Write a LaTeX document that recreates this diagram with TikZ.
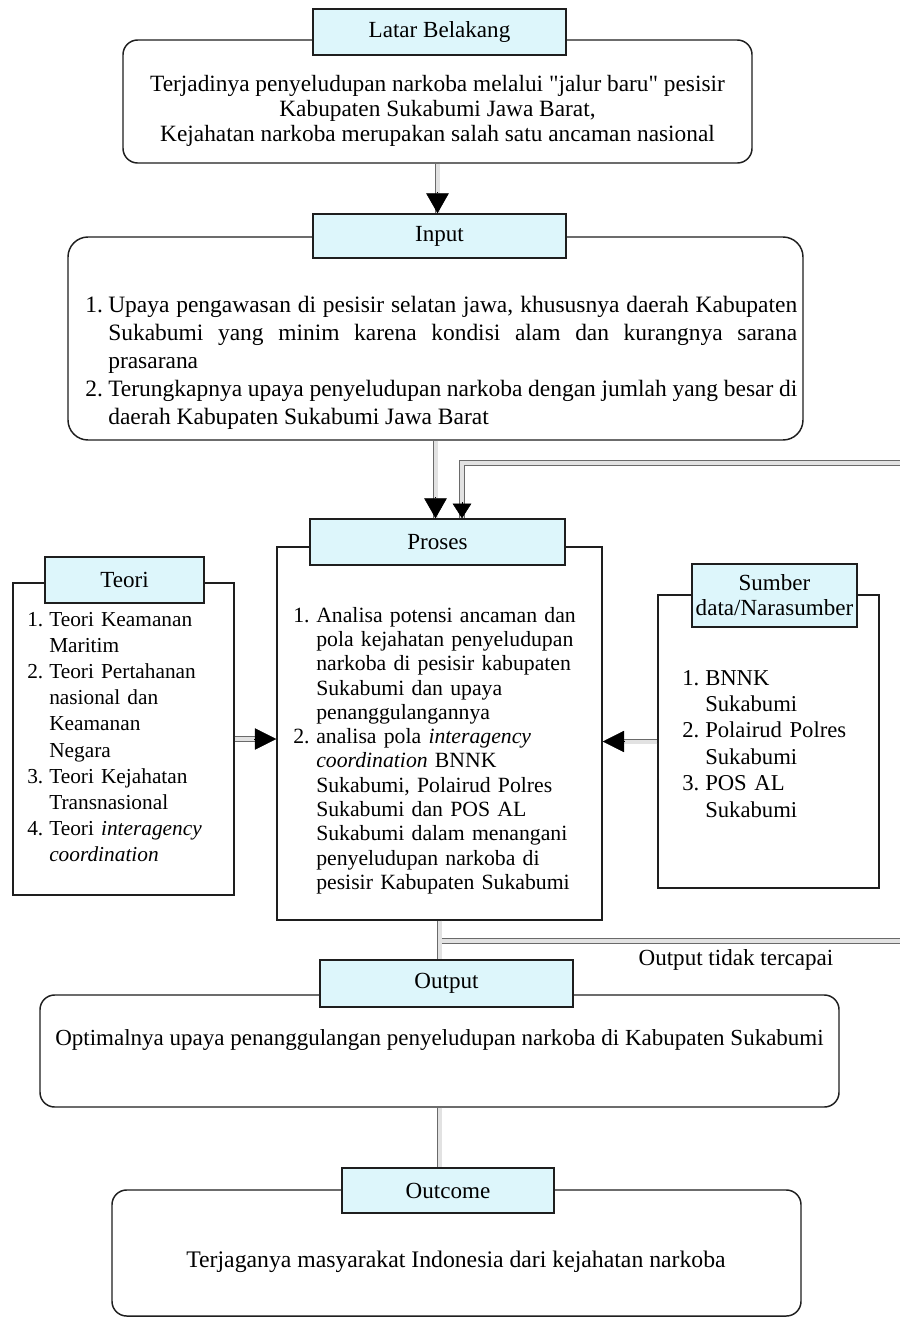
\documentclass[tikz,border=0pt]{standalone}
\usepackage{fontspec}
\setmainfont{Liberation Serif}[Ligatures=TeXOff]
\usetikzlibrary{fit,calc,arrows.meta}
\definecolor{hdrfill}{HTML}{DDF6FB}
\definecolor{edge}{HTML}{1E1E1E}
\definecolor{dblout}{HTML}{6A6A6A}
\definecolor{dblin}{HTML}{E2E2E2}
\newlength{\hng}
\newcommand{\itm}[2]{\par\noindent\hangindent=\hng\hangafter=1\makebox[\hng][l]{#1}#2\par}
\tikzset{
  boxframe/.style={draw=edge, line width=1.1pt, fill=white, inner sep=0pt},
  rboxframe/.style={boxframe, rounded corners=11pt},
  hdrbox/.style={draw=edge, line width=1.1pt, fill=hdrfill, inner sep=2pt, align=center, font=\fontsize{17.3}{18.75}\selectfont},
  dbl/.style={draw=dblout, line width=0.7pt, double=dblin, double distance=3pt},
  bigtip/.style={-{Triangle[length=15pt,width=17pt]}, line width=0.4pt, draw=black},
  smalltip/.style={-{Triangle[length=11pt,width=14pt]}, line width=0.4pt, draw=black},
  sidetip/.style={-{Triangle[length=16pt,width=16pt]}, line width=0.4pt, draw=black},
  bodytext/.style={inner sep=0pt},
}
\begin{document}
\begin{tikzpicture}[x=0.75pt,y=-0.75pt]
\useasboundingbox (0,0) rectangle (900,1318);
\fill[white] (0,0) rectangle (900,1318);

% free ends of the feedback loop
\coordinate (fb1) at (900,463);
\coordinate (fbc) at (462,463);
\coordinate (fb2) at (900,941);

% ---------- boxes ----------
\node[rboxframe, fit={(123,40)(752,163)}] (lb) {};
\node[rboxframe, rounded corners=15pt, fit={(68,237)(803,440)}] (ib) {};
\node[boxframe, fit={(277,547)(602,920)}] (pb) {};
\node[boxframe, fit={(13,583)(234,895)}] (tb) {};
\node[boxframe, fit={(658,595)(879,888)}] (sb) {};
\node[rboxframe, fit={(40,995)(839,1107)}] (ob) {};
\node[rboxframe, fit={(112,1190)(801,1316)}] (ocb) {};

% ---------- connectors ----------
% Latar -> Input
\draw[dbl, shorten >=13pt] (lb.south) -- (lb.south |- ib.north);
% Input -> Proses
\draw[dbl, shorten >=13pt] (ib.south) -- (ib.south |- pb.north);
% feedback top
\draw[dbl, shorten >=9pt] (fb1) -- (fbc) -- (fbc |- pb.north);
% Teori -> Proses
\draw[dbl, shorten >=14pt] (tb.east) -- (tb.east -| pb.west);
% Sumber -> Proses
\draw[dbl, shorten >=14pt] (sb.west) -- (sb.west -| pb.east);
% Proses -> Output, with branch
\draw[dbl] (pb.south |- fb2) -- (fb2);
\draw[dbl] (pb.south) -- (pb.south |- ob.north);
% Output -> Outcome
\draw[dbl] (ob.south -| pb.south) -- (ocb.north -| pb.south);

% ---------- headers ----------
\node[hdrbox, minimum width=190pt, minimum height=34.5pt] (lh) at (439.5,32) {Latar Belakang};
\node[hdrbox, minimum width=190pt, minimum height=33pt] (ih) at (439.5,236) {Input};
\node[hdrbox, minimum width=191pt, minimum height=34.5pt] (ph) at (437.5,542) {Proses};
\node[hdrbox, minimum width=119pt, minimum height=34.5pt] (th) at (124.5,580) {Teori};
\node[hdrbox, minimum width=124pt, minimum height=47pt] (sh) at (774.5,595.5) {Sumber\\data/Narasumber};
\node[hdrbox, minimum width=190pt, minimum height=35pt] (oh) at (446.5,983.5) {Output};
\node[hdrbox, minimum width=159pt, minimum height=34pt] (och) at (448,1190.5) {Outcome};

% arrow tips
\draw[bigtip] ($(lb.south |- ih.north)+(0,-21)$) -- (lb.south |- ih.north);
\draw[bigtip] ($(ib.south |- ph.north)+(0,-21)$) -- (ib.south |- ph.north);
\draw[smalltip] ($(fbc |- ph.north)+(0,-16)$) -- (fbc |- ph.north);
\draw[sidetip] ($(tb.east -| pb.west)+(-22,0)$) -- (tb.east -| pb.west);
\draw[sidetip] ($(sb.west -| pb.east)+(22,0)$) -- (sb.west -| pb.east);

% ---------- texts ----------
\node[bodytext, align=center, font=\fontsize{17.5}{18.75}\selectfont] (lt) at (437.5,111)
  {Terjadinya penyeludupan narkoba melalui "jalur baru" pesisir\\
   Kabupaten Sukabumi Jawa Barat,\\
   Kejahatan narkoba merupakan salah satu ancaman nasional};

\node[bodytext, anchor=west, text width=534pt, align=justify,
      font={\fontsize{17.6}{21}\selectfont\hyphenpenalty=10000\relax\setlength{\hng}{17.25pt}}] (it) at (85,357)
  {\itm{1.}{Upaya pengawasan di pesisir selatan jawa, khususnya daerah Kabupaten\linebreak
    Sukabumi yang minim karena kondisi alam dan kurangnya sarana\linebreak prasarana}%
   \itm{2.}{Terungkapnya upaya penyeludupan narkoba dengan jumlah yang besar di\newline
    daerah Kabupaten Sukabumi Jawa Barat}};

\node[bodytext, anchor=west, text width=225pt, align=left,
      font={\fontsize{16.3}{18.2}\selectfont\setlength{\hng}{17.25pt}}] (pt) at (293,746)
  {\itm{1.}{Analisa potensi ancaman dan\newline pola kejahatan penyeludupan\newline
    narkoba di pesisir kabupaten\newline Sukabumi dan upaya\newline penanggulangannya}%
   \itm{2.}{analisa pola \textit{interagency}\newline \textit{coordination} BNNK\newline
    Sukabumi, Polairud Polres\newline Sukabumi dan POS AL\newline
    Sukabumi dalam menangani\newline penyeludupan narkoba di\newline
    pesisir Kabupaten Sukabumi}};

\node[bodytext, anchor=west, text width=153pt, align=left,
      font={\fontsize{16}{19.6}\selectfont\setlength{\hng}{16.5pt}}] (tt) at (27,731)
  {\itm{1.}{Teori Keamanan\newline Maritim}%
   \itm{2.}{Teori Pertahanan\newline nasional dan\newline Keamanan\newline Negara}%
   \itm{3.}{Teori Kejahatan\newline Transnasional}%
   \itm{4.}{Teori \textit{interagency}\newline \textit{coordination}}};

\node[bodytext, anchor=west, text width=144pt, align=left,
      font={\fontsize{17}{19.8}\selectfont\setlength{\hng}{17.25pt}}] (st) at (682,738)
  {\itm{1.}{BNNK\newline Sukabumi}%
   \itm{2.}{Polairud Polres\newline Sukabumi}%
   \itm{3.}{POS AL\newline Sukabumi}};

\node[bodytext, font=\fontsize{17.3}{18.75}\selectfont] (otc) at (736,960) {Output tidak tercapai};

\node[bodytext, font=\fontsize{17.25}{18.75}\selectfont] (ot) at (439.5,1040)
  {Optimalnya upaya penanggulangan penyeludupan narkoba di Kabupaten Sukabumi};

\node[bodytext, font=\fontsize{17.8}{18.75}\selectfont] (oct) at (456,1262)
  {Terjaganya masyarakat Indonesia dari kejahatan narkoba};
\end{tikzpicture}
\end{document}
